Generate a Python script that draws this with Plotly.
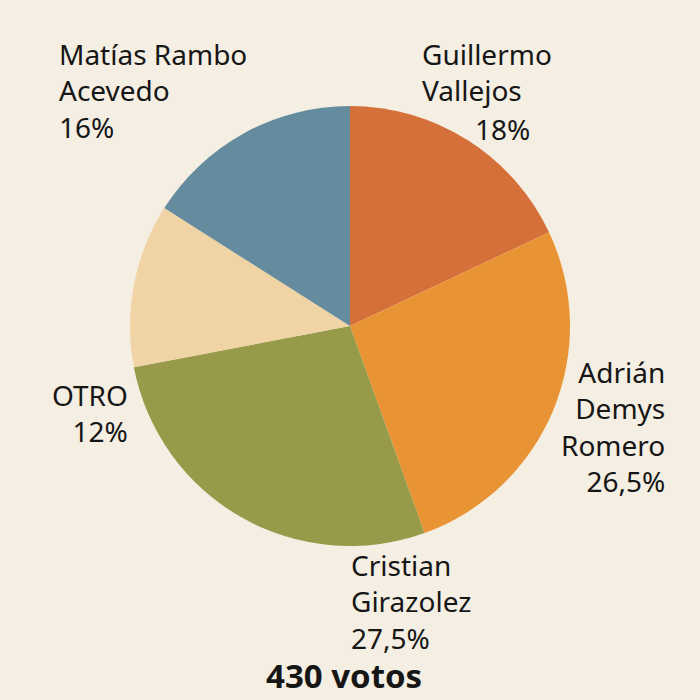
import plotly.graph_objects as go

candidates = ["Guillermo Vallejos", "Adrián Demys Romero", "Cristian Girazolez", "OTRO", "Matías Rambo Acevedo"]
name_lines = ["Guillermo<br>Vallejos", "Adrián<br>Demys<br>Romero", "Cristian<br>Girazolez", "OTRO", "Matías Rambo<br>Acevedo"]
shares = [18, 26.5, 27.5, 12, 16]
share_labels = ["18%", "26,5%", "27,5%", "12%", "16%"]
colors = ["#D5703A", "#E99434", "#979A49", "#F1D4A5", "#658C9E"]
total_votes = 430

W = H = 700
BG = "#F4EEE3"
FONT = "Noto Sans"
FS = 28

fig = go.Figure(go.Pie(
    labels=candidates,
    values=shares,
    sort=False,
    direction="clockwise",
    rotation=0,
    marker=dict(colors=colors, line=dict(width=0)),
    textinfo="none",
    hoverinfo="label+percent",
    showlegend=False,
    domain=dict(x=[130 / W, 570 / W], y=[1 - 546 / H, 1 - 106 / H]),
))

def px(x, y):
    return x / W, 1 - y / H

# label block placement: (x, y, xanchor, align, share_separate, share_x, share_y)
label_pos = [
    (421, 34, "left", "left", True, 531, 109),
    (666, 352, "right", "right", False, None, None),
    (350, 545, "left", "left", False, None, None),
    (129, 375, "right", "right", False, None, None),
    (58, 34, "left", "left", False, None, None),
]

annotations = []
font = dict(family=FONT, size=FS, color="#161616")
for i in range(len(candidates)):
    x0, y0, xa, al, sep, sx, sy = label_pos[i]
    if sep:
        blocks = [(name_lines[i], x0, y0, xa, al), (share_labels[i], sx, sy, "right", "right")]
    else:
        blocks = [(name_lines[i] + "<br>" + share_labels[i], x0, y0, xa, al)]
    for txt, bx, by, bxa, bal in blocks:
        x, y = px(bx, by)
        annotations.append(dict(
            text=txt, x=x, y=y, xref="paper", yref="paper",
            xanchor=bxa, yanchor="top", align=bal, borderpad=0,
            showarrow=False, font=font,
        ))

tx, ty = px(344, 675)
annotations.append(dict(
    text=f"<b>{total_votes} votos</b>", x=tx, y=ty, xref="paper", yref="paper",
    xanchor="center", yanchor="middle", showarrow=False, borderpad=0,
    font=dict(family=FONT, size=33, color="#161616"),
))

fig.update_layout(
    width=W, height=H,
    margin=dict(l=0, r=0, t=0, b=0),
    paper_bgcolor=BG,
    plot_bgcolor=BG,
    annotations=annotations,
)

fig.write_html(
    "out.html",
    config={"displayModeBar": False},
    post_script=f"document.body.style.margin='0';document.body.style.background='{BG}';",
)
